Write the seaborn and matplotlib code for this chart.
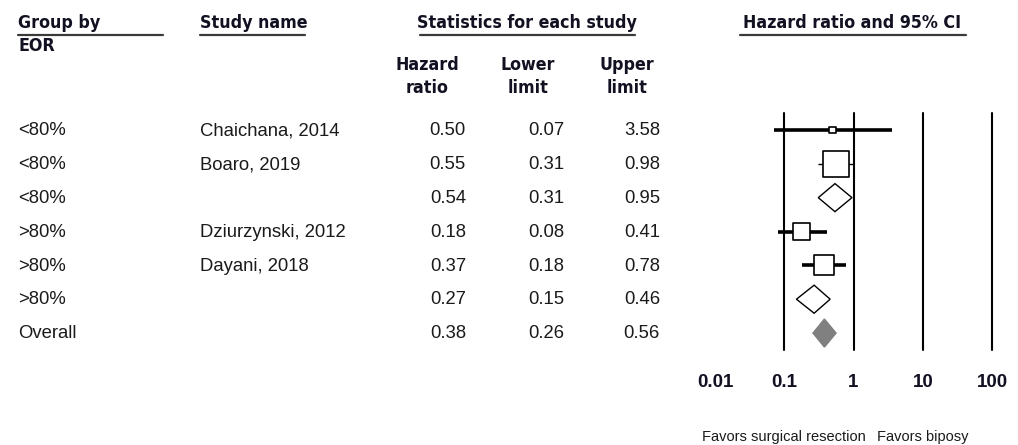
#!/usr/bin/env python3
"""Forest plot: hazard ratio of surgical resection vs biopsy, grouped by EOR."""

import matplotlib.pyplot as plt
import numpy as np
import pandas as pd
import seaborn as sns
from matplotlib.patches import Polygon

# Table rows
groups = ["<80%", "<80%", "<80%", ">80%", ">80%", ">80%", "Overall"]
studies = ["Chaichana, 2014", "Boaro, 2019", "", "Dziurzynski, 2012", "Dayani, 2018", "", ""]
hazard = [0.50, 0.55, 0.54, 0.18, 0.37, 0.27, 0.38]
lower = [0.07, 0.31, 0.31, 0.08, 0.18, 0.15, 0.26]
upper = [3.58, 0.98, 0.95, 0.41, 0.78, 0.46, 0.56]
row_kind = ["study", "study", "subtotal", "study", "study", "subtotal", "overall"]
# relative study weights (square area)
weights = [3.0, 48.0, 0.0, 20.6, 28.4, 0.0, 0.0]

x_ticks = [0.01, 0.1, 1, 10, 100]
x_tick_labels = ["0.01", "0.1", "1", "10", "100"]
ref_lines = [0.1, 1, 10, 100]

W, H = 1018, 445
BODY = ["Liberation Sans", "Arial", "DejaVu Sans"]
HEAD = ["Liberation Sans Narrow", "DejaVu Sans"]


def fx(px):
    return px / W


def fy(py):
    return 1 - py / H


def main():
    sns.set_style("white")
    plt.rcParams["font.family"] = BODY

    df = pd.DataFrame({
        "group": groups, "study": studies, "hr": hazard,
        "lo": lower, "hi": upper, "kind": row_kind, "w": weights,
    })
    df["row"] = np.arange(len(df))

    fig = plt.figure(figsize=(W / 100, H / 100), dpi=100)

    # ---- header -------------------------------------------------------
    hdr = dict(fontsize=12.8, fontweight="bold", family=HEAD, fontstretch="condensed",
               color="#111122", va="center")
    fig.text(fx(18), fy(23), "Group by", ha="left", **hdr)
    fig.text(fx(18), fy(46), "EOR", ha="left", **hdr)
    fig.text(fx(200), fy(23), "Study name", ha="left", **hdr)
    fig.text(fx(527), fy(23), "Statistics for each study", ha="center", **hdr)
    fig.text(fx(852), fy(23), "Hazard ratio and 95% CI", ha="center", **hdr)
    for cx, (a, b) in zip([427, 528, 627],
                          [("Hazard", "ratio"), ("Lower", "limit"), ("Upper", "limit")]):
        fig.text(fx(cx), fy(65), a, ha="center", **hdr)
        fig.text(fx(cx), fy(88), b, ha="center", **hdr)

    for x0, x1 in [(18, 163), (200, 305), (420, 635), (740, 966)]:
        fig.add_artist(plt.Line2D([fx(x0), fx(x1)], [fy(35), fy(35)],
                                  color="#3a3a3a", linewidth=1.6))

    # ---- table body ---------------------------------------------------
    row_y = 131
    step = 33.8
    body = dict(fontsize=13.3, color="#1a1a1a", va="center")
    for i, r in df.iterrows():
        y = fy(row_y + i * step)
        fig.text(fx(18), y, r["group"], ha="left", **body)
        if r["study"]:
            fig.text(fx(200), y, r["study"], ha="left", **body)
        fig.text(fx(466), y, f"{r['hr']:.2f}", ha="right", **body)
        fig.text(fx(564), y, f"{r['lo']:.2f}", ha="right", **body)
        fig.text(fx(660), y, f"{r['hi']:.2f}", ha="right", **body)

    # ---- forest axes ---------------------------------------------------
    top, bottom = 113, 350
    ax = fig.add_axes([fx(715), fy(bottom), (992 - 715) / W, (bottom - top) / H])
    ax.set_xscale("log")
    ax.set_xlim(0.01, 100)
    ax.set_ylim(len(df) - 0.5, -0.5)

    for v in ref_lines:
        ax.axvline(v, color="black", linewidth=1.5, zorder=1, clip_on=False)

    studies_df = df[df["kind"] == "study"]
    ci_lw = {0: 2.6, 1: 1.0, 3: 2.6, 4: 2.6}
    for i, r in studies_df.iterrows():
        ax.hlines(r["row"], r["lo"], r["hi"], color="black",
                  linewidth=ci_lw[i], zorder=2)

    max_area = (26 * 0.72) ** 2
    sns.scatterplot(
        data=studies_df, x="hr", y="row", size="w",
        sizes=(0, max_area), size_norm=(0, studies_df["w"].max()),
        marker="s", color="white", edgecolor="black", linewidth=1.2,
        legend=False, zorder=3, ax=ax,
    )

    half_h = 14 / step
    for _, r in df[df["kind"] != "study"].iterrows():
        lo, hr, hi, y = np.log10(r["lo"]), np.log10(r["hr"]), np.log10(r["hi"]), r["row"]
        pts = [(10 ** lo, y), (10 ** hr, y - half_h), (10 ** hi, y), (10 ** hr, y + half_h)]
        overall = r["kind"] == "overall"
        ax.add_patch(Polygon(
            pts, closed=True,
            facecolor="#808080" if overall else "white",
            edgecolor="#808080" if overall else "black",
            linewidth=1.0, zorder=3,
        ))

    ax.set_xticks(x_ticks)
    ax.set_xticklabels(x_tick_labels, fontsize=13.5, fontweight="bold", color="#111122")
    ax.xaxis.set_minor_locator(plt.NullLocator())
    ax.tick_params(axis="x", length=0, pad=17)
    ax.set_yticks([])
    ax.set_xlabel("")
    ax.set_ylabel("")
    for s in ax.spines.values():
        s.set_visible(False)
    ax.patch.set_alpha(0)

    fig.text(fx(702), fy(437), "Favors surgical resection", ha="left", va="center",
             fontsize=10.5, color="#1a1a1a")
    fig.text(fx(877), fy(437), "Favors biposy", ha="left", va="center",
             fontsize=10.5, color="#1a1a1a")

    fig.savefig("out.png", dpi=100)
    plt.close(fig)


if __name__ == "__main__":
    main()
